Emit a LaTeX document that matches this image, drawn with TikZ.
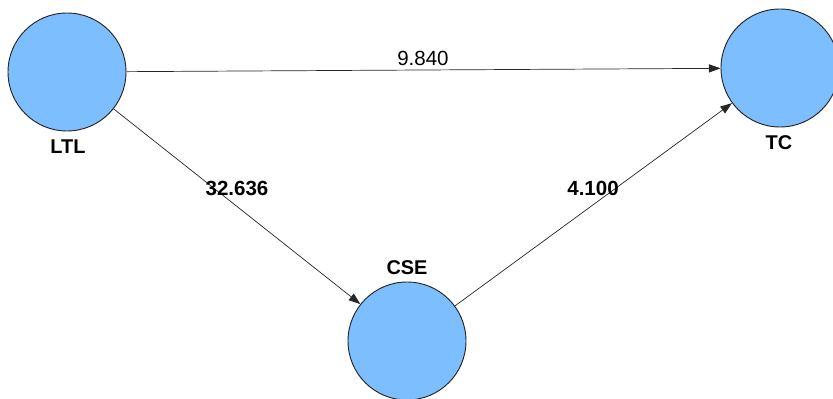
\documentclass[tikz,border=0pt]{standalone}
\usepackage{fontspec}
\setmainfont{Liberation Sans}
\usetikzlibrary{arrows.meta}
\definecolor{lvblue}{RGB}{125,190,255}
\tikzset{
  latent/.style={circle, draw=black!85, fill=lvblue, line width=0.8pt, minimum size=3.54cm, inner sep=0pt},
  lvname/.style={font=\fontsize{17}{19}\selectfont\bfseries},
  coef/.style={font=\fontsize{17.5}{19}\selectfont},
  arc/.style={draw=black!85, line width=0.6pt, -{Triangle[length=10pt,width=7pt]}}
}
\begin{document}
\begin{tikzpicture}[x=0.03cm, y=-0.03cm]
			%%%%% START %%%%%
			\useasboundingbox (0, 0) rectangle (833, 399);
			
			\node[latent] (LTL) at (67, 72) {};
			\node[latent] (TC) at (780, 68) {};
			\node[latent] (CSE) at (407, 341) {};
			
			\node[lvname] (LTLname) at (68, 147) {LTL};
			\node[lvname] (TCname) at (779, 143) {TC};
			\node[lvname] (CSEname) at (407, 268) {CSE};
			
			\draw[arc] (LTL) -- (TC);
			\draw[arc] (LTL) -- (CSE);
			\draw[arc] (CSE) -- (TC);
			
			\node[coef] (c1) at (423, 58) {9.840};
			\node[coef, font=\fontsize{17.5}{19}\selectfont\bfseries] (c2) at (237, 188) {32.636};
			\node[coef, font=\fontsize{17.5}{19}\selectfont\bfseries] (c3) at (593, 188) {4.100};
			%%%%% END %%%%%
\end{tikzpicture}
\end{document}
